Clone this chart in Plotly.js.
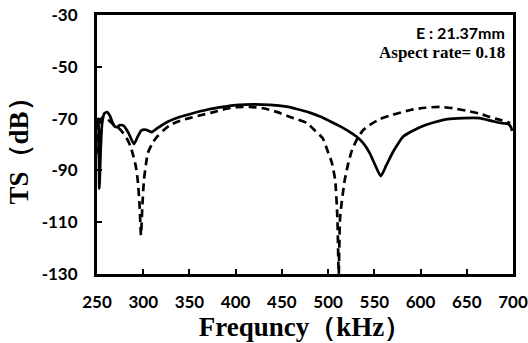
<!DOCTYPE html>
<html>
<head>
<meta charset="utf-8">
<script src="https://cdn.plot.ly/plotly-3.0.1.min.js"></script>
<style>html,body{margin:0;padding:0;background:#fff;}#chart{width:528px;height:343px;}</style>
</head>
<body>
<div id="chart"></div>
<script>
// Solid curve
const solidFreq = [250.5, 251.5, 252.5, 254, 255.5, 258, 261, 264, 268, 271, 275, 279, 284, 290, 294, 298, 303, 309, 316, 326, 340, 351, 370, 386, 400, 420, 437, 455, 466, 480, 492, 502, 512, 522, 531, 538, 545, 551, 557, 563, 570, 576, 581, 590, 600, 614, 629, 646, 664, 678, 688, 695, 698, 699];
const solidTS = [-72, -70, -97, -82, -72, -68, -67.5, -69, -72.5, -73.3, -72.5, -72.8, -75.5, -79.8, -77, -74.5, -74.3, -75.2, -73.5, -71.3, -69.3, -68.2, -66.5, -65.5, -64.8, -64.5, -64.7, -65.4, -66.3, -67.7, -69.3, -71, -72.8, -74.8, -77, -79.5, -83.3, -88, -92.2, -88, -83, -79.5, -77, -75, -73.2, -71.5, -70.2, -69.8, -69.8, -71, -71.8, -72.1, -73.5, -74.8];

// Dashed curve
const dashFreq = [250, 251.5, 253, 256, 262, 268, 272, 277, 282, 286, 289, 292, 294, 296, 297.6, 299, 300.8, 303, 305, 310, 315, 322, 329, 340, 350, 361, 375, 390, 400, 415, 430, 445, 459, 477, 484, 494, 499, 504, 507.6, 510, 511.5, 513, 518, 522, 526, 532, 538, 547, 556, 570, 589, 605, 621, 635, 650, 663, 675, 687, 697];
const dashTS = [-71, -84, -72, -69.5, -70.5, -72.3, -73.2, -75, -77.5, -80.5, -84, -88.5, -93.7, -103, -115, -104, -93.7, -87.5, -83.3, -79.5, -77, -74.5, -72.5, -70.8, -69.8, -68.8, -67.6, -66.2, -65.6, -65.5, -66, -67.5, -69.4, -71.7, -74, -77.5, -82, -87, -93.7, -108, -130, -108, -93.7, -87, -82, -77.5, -74.4, -72, -70.2, -68.5, -66.7, -65.8, -65.5, -66, -67, -68, -69.4, -70.6, -71.7];

const xTicks = [250, 300, 350, 400, 450, 500, 550, 600, 650, 700];
const yTicks = [-130, -110, -90, -70, -50, -30];

const traces = [
  {x: solidFreq, y: solidTS, mode: 'lines', type: 'scatter',
   line: {color: '#000', width: 2.7, shape: 'spline', smoothing: 0.6}, hoverinfo: 'none'},
  {x: dashFreq, y: dashTS, mode: 'lines', type: 'scatter',
   line: {color: '#000', width: 2.7, dash: '8px,5px', shape: 'spline', smoothing: 0.6}, hoverinfo: 'none'}
];

const tickFont = {family: 'Lato, "Liberation Sans", Arial, sans-serif', size: 17, color: '#000', weight: 'bold'};
const titleFont = {family: '"Liberation Serif", "Times New Roman", serif', size: 27, color: '#000', weight: 'bold'};

const layout = {
  width: 528, height: 343,
  margin: {l: 97, r: 15, t: 15, b: 69},
  paper_bgcolor: '#fff', plot_bgcolor: '#fff',
  showlegend: false,
  xaxis: {
    range: [250, 700], tickvals: xTicks, ticktext: xTicks.map(String),
    ticks: 'inside', ticklen: 5, tickwidth: 2, tickcolor: '#000',
    showline: true, linewidth: 3, linecolor: '#000', mirror: true,
    showgrid: false, zeroline: false,
    tickfont: tickFont, ticklabelstandoff: 11,
    title: {text: 'Frequncy（kHz）', font: titleFont, standoff: 3}
  },
  yaxis: {
    range: [-130, -30], tickvals: yTicks, ticktext: yTicks.map(String),
    ticks: 'inside', ticklen: 5, tickwidth: 2, tickcolor: '#000',
    showline: true, linewidth: 3, linecolor: '#000', mirror: true,
    showgrid: false, zeroline: false,
    tickfont: tickFont, ticklabelstandoff: 13,
    title: {text: 'TS（dB）', font: titleFont, standoff: 6}
  },
  annotations: [
    {xref: 'paper', yref: 'paper', x: 0.985, y: 0.934, xanchor: 'right', yanchor: 'middle',
     text: 'E : 21.37mm', showarrow: false,
     font: {family: 'Lato, "Liberation Sans", sans-serif', size: 16, color: '#000', weight: 'bold'}},
    {xref: 'paper', yref: 'paper', x: 0.985, y: 0.855, xanchor: 'right', yanchor: 'middle',
     text: 'Aspect rate= 0.18', showarrow: false,
     font: {family: '"Liberation Serif", "Times New Roman", serif', size: 17, color: '#000', weight: 'bold'}}
  ]
};

Plotly.newPlot('chart', traces, layout, {displayModeBar: false, staticPlot: true});
</script>
</body>
</html>
